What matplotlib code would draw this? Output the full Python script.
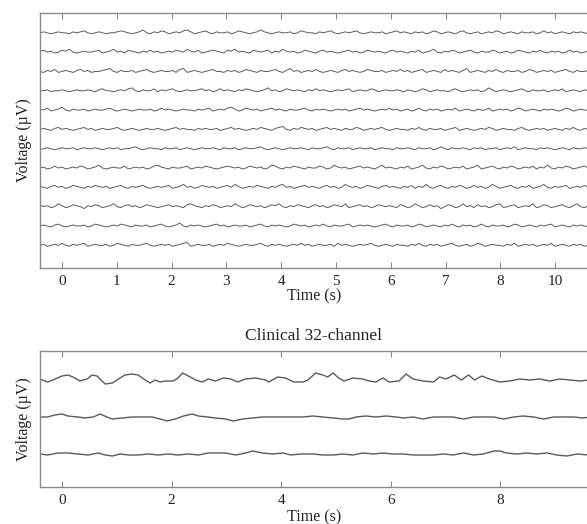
import numpy as np
import matplotlib
matplotlib.use("Agg")
import matplotlib.pyplot as plt

plt.rcParams['font.family'] = ['Liberation Serif', 'DejaVu Serif']

# ---------------- data ----------------
# Top panel: 12 high-density channels (values in µV, relative to channel baseline)
top_ch01 = [0,1,0,-1,0,1,0,0,-1,1,0,1,2,0,-1,0,1,0,-1,0,0,1,2,1,0,-1,0,1,3,0,-1,1,0,2,1,-1,0,1,0,2,3,1,-1,0,1,2,0,-1,1,0,0,1,-1,0,2,1,0,-1,0,1,3,1,0,-1,0,1,0,0,1,-1,0,2,1,0,0,-1,1,0,1,2,0,-1,0,1,0,1,2,0,-1,0,1,0,0,1,-1,0,1,2,0,1,
            0,-1,1,0,1,-1,0,2,1,-1,0,1,0,-1,1,2,0,-1,0,1,-1,0,1,0,2,1,-1,0,1,0,-1,1,0,0,1,-1,0,2,0,1,-1,0,1,0,-1,1,0,1,0,-1]
top_ch02 = [1,2,0,1,-1,0,2,1,3,0,-1,0,1,0,0,1,2,-1,0,1,3,0,1,-1,2,1,0,-1,1,0,2,0,1,-1,0,1,0,2,1,0,3,1,0,2,-1,0,1,2,1,0,-1,2,1,3,0,1,0,-1,2,1,0,1,2,-1,1,0,3,1,0,1,-1,0,2,1,0,-1,1,2,0,1,0,-1,0,1,2,0,1,-1,0,2,1,0,1,0,-1,1,2,0,1,0,
            -1,1,0,2,-1,0,1,3,0,-1,1,0,2,1,-1,0,1,2,0,-1,1,0,0,2,1,-1,0,1,-1,0,2,1,0,-1,1,0,2,0,-1,1,0,1,-1,0,2,0,1,-1,0,1]
top_ch03 = [0,-1,1,0,2,-1,0,1,0,-1,1,2,0,1,-1,0,0,1,2,3,0,-1,1,0,0,1,-1,0,1,2,0,-1,0,1,0,0,1,-1,2,3,-1,0,1,0,-1,0,1,2,0,0,-1,1,0,1,-1,0,2,1,0,-1,1,0,0,1,2,0,-1,1,3,0,1,-1,0,1,0,2,0,-1,0,1,0,-1,1,2,0,1,0,-1,0,2,1,0,0,1,-1,0,1,0,2,0,
            1,-1,0,1,2,-1,0,1,0,-1,2,0,1,0,-1,1,3,-1,0,1,0,-1,1,0,2,0,-1,1,0,0,1,-1,0,2,1,-1,0,1,0,1,-1,0,1,2,0,-1,1,0,0,1]
top_ch04 = [0,0,1,-1,0,0,1,0,-1,0,1,0,0,1,0,-1,1,2,0,0,-1,0,1,0,2,3,0,-1,1,0,0,2,-1,1,0,1,2,0,-1,0,1,0,0,1,2,0,1,-1,0,2,0,1,0,-1,1,0,2,1,0,-1,0,1,3,0,1,-1,0,2,1,0,1,0,-1,1,0,2,0,1,0,-1,0,1,0,1,2,-1,0,1,0,0,2,1,-1,0,1,0,0,1,0,-1,
            1,0,-1,0,2,1,-1,0,1,0,0,-1,1,2,0,-1,0,1,0,1,-1,0,3,1,-1,0,1,0,-1,0,1,2,0,-1,1,0,0,1,-1,0,1,0,2,-1,0,1,0,-1,1,0]
top_ch05 = [1,0,2,-1,0,1,3,0,-1,1,0,0,1,-1,0,1,0,0,1,2,0,-1,0,1,0,-1,0,1,0,0,1,-1,0,2,0,1,0,-1,0,1,0,0,-1,1,0,1,2,-1,0,1,0,2,3,1,-1,0,2,1,0,1,-1,0,1,2,0,1,0,-1,1,0,0,1,2,0,-1,1,0,1,0,-1,0,1,0,1,-1,0,1,2,0,1,0,-1,0,1,0,2,0,1,-1,0,
            1,-1,0,2,0,-1,1,0,1,-1,0,1,0,2,-1,0,1,0,-1,1,0,0,2,-1,0,1,0,1,-1,0,2,1,-1,0,1,0,-1,1,0,1,0,-1,0,2,1,-1,0,1,0,0]
top_ch06 = [0,1,0,-1,1,2,0,1,0,-1,0,1,2,0,1,-1,0,1,0,0,1,2,0,-1,0,1,0,-1,0,1,0,0,1,0,-1,0,1,2,0,1,0,0,-1,1,0,1,0,0,1,-1,0,1,2,0,1,0,-1,0,1,0,2,1,0,-1,1,2,3,0,-1,1,0,2,1,0,1,-1,0,1,2,0,1,0,-1,1,0,0,2,1,-1,0,1,0,1,2,0,-1,0,1,0,0,
            -1,1,0,2,0,-1,1,0,0,1,-1,0,1,2,-1,0,1,0,-1,0,1,0,2,1,-1,0,1,0,0,-1,1,2,0,-1,0,1,0,1,-1,0,1,0,-1,1,0,2,0,-1,1,0]
top_ch07 = [-1,0,1,0,-1,0,1,0,0,1,-1,0,1,0,0,1,0,-1,0,1,0,1,-1,0,0,1,2,0,-1,0,1,0,0,-1,1,0,0,1,-1,0,1,0,-1,0,1,0,0,1,0,-1,1,0,0,1,-1,0,1,0,0,1,2,0,-1,0,1,0,-1,0,1,0,0,1,0,-1,1,0,0,1,2,0,-1,1,0,0,1,-1,0,1,0,0,1,-1,0,1,0,0,-1,1,0,0,
            1,0,-1,1,0,0,1,-1,0,2,0,-1,1,0,0,1,0,-1,1,0,1,-1,0,0,1,-1,0,1,0,2,-1,0,1,0,0,-1,1,0,1,0,-1,0,1,0,-1,1,0,0,1,0]
top_ch08 = [0,1,-1,0,2,0,1,-1,0,1,0,2,1,-1,0,1,3,0,-1,0,1,0,0,2,-1,0,1,0,1,-1,0,2,3,1,0,-1,1,0,0,1,2,-1,0,1,0,2,1,0,-1,0,1,2,1,0,1,-1,0,2,1,0,1,-1,0,3,2,0,-1,1,0,2,1,0,-1,1,0,0,2,1,-1,0,3,1,0,1,-1,0,1,2,0,1,0,-1,1,3,0,1,0,-1,1,0,
            2,-1,0,1,3,0,-1,1,0,2,1,-1,0,1,0,2,-1,0,1,3,-1,0,1,2,0,-1,1,0,2,1,-1,0,1,0,2,-1,1,0,3,0,-1,1,0,2,1,-1,0,1,2,0]
top_ch09 = [1,0,-1,1,2,0,1,-1,0,2,1,0,-1,1,0,2,1,0,1,-1,0,1,2,0,-1,1,0,1,2,0,-1,0,1,0,1,2,-1,0,1,3,0,1,-1,0,2,1,0,1,-1,0,1,2,0,3,1,-1,0,1,0,2,1,0,-1,1,0,2,3,0,1,-1,0,1,2,0,1,0,-1,1,2,0,1,-1,0,3,1,0,1,-1,0,2,1,0,-1,1,2,0,1,0,-1,1,
            0,2,-1,1,0,3,0,-1,1,2,0,-1,1,0,2,1,-1,0,2,0,1,-1,0,3,1,-1,0,1,2,0,-1,1,0,2,-1,0,1,3,0,-1,1,0,1,2,-1,0,1,0,2,0]
top_ch10 = [2,0,1,-1,0,3,1,-1,0,2,1,0,-2,1,0,2,1,-1,0,1,3,0,-1,1,2,0,1,-1,0,2,1,0,-1,0,1,2,0,1,0,-1,2,3,1,0,-1,1,0,2,1,-1,0,1,0,3,1,-1,0,2,1,0,1,-1,0,2,1,3,0,-1,1,0,2,1,0,-1,1,2,0,1,-1,0,2,1,0,3,-1,0,1,2,0,1,-1,0,2,1,0,1,0,-1,2,1,
            -1,0,3,1,-1,0,2,0,1,-2,0,2,1,-1,0,3,0,1,-1,2,0,1,-1,0,2,3,-1,0,1,2,-1,0,1,0,3,-1,0,2,1,-1,0,1,2,0,-1,1,3,0,-1,1]
top_ch11 = [0,1,0,-1,1,2,0,-1,0,1,0,0,1,-1,0,2,1,0,-1,0,1,0,2,1,0,-1,1,0,0,1,-1,0,1,2,0,-1,0,1,3,0,-1,1,0,1,0,-1,0,1,2,0,1,-1,0,1,0,0,1,-1,0,1,2,0,-1,1,0,1,0,-1,0,2,1,0,1,-1,0,1,0,2,0,-1,1,0,0,1,2,-1,0,1,0,1,0,-1,0,1,2,0,-1,1,0,0,
            1,-1,0,2,1,-1,0,1,0,-1,1,0,2,0,-1,1,0,1,-1,0,2,0,-1,1,0,0,1,-1,0,2,1,-1,0,1,0,-1,1,0,1,2,-1,0,1,0,-1,1,0,1,0,-1]
top_ch12 = [0,1,-1,0,1,0,2,0,-1,1,0,1,2,-1,0,1,0,0,1,-1,0,2,1,0,-1,1,0,0,1,2,0,-1,0,1,0,1,-1,0,1,2,3,-1,0,1,0,0,1,-1,0,1,0,2,1,0,-1,0,1,0,0,1,2,0,-1,1,0,1,0,-1,0,1,0,2,0,1,-1,0,1,0,0,1,-1,2,0,1,0,-1,0,1,0,1,2,0,-1,0,1,0,-1,1,0,0,
            -1,1,0,2,0,-1,1,0,1,-1,0,1,2,0,-1,0,1,-1,0,2,1,-1,0,1,0,0,-1,1,0,2,-1,0,1,0,1,-1,0,1,0,2,-1,0,1,0,-1,1,0,1,-1,0]
top_channels = [top_ch01, top_ch02, top_ch03, top_ch04, top_ch05, top_ch06,
                top_ch07, top_ch08, top_ch09, top_ch10, top_ch11, top_ch12]
top_spacing = 20           # µV between channel baselines
top_t_start, top_t_end = -0.4, 9.6

# Bottom panel: clinical 32-channel, 3 channels (time in s, value in µV)
clin1_t = [-0.40,-0.26,-0.16,0.00,0.11,0.20,0.33,0.46,0.55,0.64,0.73,0.79,0.92,1.03,1.15,1.28,1.39,1.52,1.61,1.70,1.79,1.89,2.03,2.12,2.20,2.31,2.44,2.56,2.67,2.80,
           2.95,3.08,3.21,3.35,3.53,3.72,3.77,3.94,4.08,4.23,4.40,4.49,4.63,4.76,4.85,4.95,5.05,5.15,5.31,5.49,5.60,5.73,5.86,5.97,
           6.15,6.28,6.41,6.59,6.78,6.89,7.01,7.16,7.29,7.42,7.53,7.66,7.80,7.99,8.17,8.35,8.53,8.72,8.90,9.08,9.27,9.45,9.62]
clin1_v = [1,-2,0,4,5,3,-1,1,5,4,-1,-4,-3,1,5,6,5,0,-3,0,-2,-1,-1,2,7,4,0,-2,1,-1,
           2,1,-2,1,2,0,-2,3,2,-2,-2,0,7,5,3,7,2,-1,2,1,-1,-2,2,-2,
           -1,6,1,-1,-2,3,1,5,0,5,0,4,1,-2,-1,1,0,1,-1,1,0,-1,0]
clin2_t = [-0.40,-0.26,-0.13,0.00,0.11,0.29,0.42,0.57,0.70,0.82,0.92,1.10,1.28,1.47,1.65,1.79,1.92,2.07,2.22,2.38,2.49,2.66,2.80,
           2.99,3.13,3.30,3.48,3.66,3.85,4.03,4.21,4.40,4.58,4.76,4.95,5.13,5.24,5.37,5.55,5.73,5.92,6.10,
           6.23,6.41,6.59,6.78,6.96,7.14,7.33,7.51,7.69,7.88,8.06,8.24,8.42,8.61,8.79,8.97,9.16,9.34,9.52,9.62]
clin2_v = [0,0,2,3,1,0,-1,0,3,0,-2,-1,0,0,0,-2,-4,-2,1,3,1,0,-1,
           -2,-4,-2,-1,0,0,0,0,0,1,0,-1,-2,-2,0,1,0,1,0,
           -1,0,-2,0,0,0,-2,0,0,0,-2,0,1,0,-2,0,0,0,-1,0]
clin3_t = [-0.40,-0.26,-0.07,0.11,0.29,0.48,0.66,0.79,0.92,1.06,1.21,1.39,1.58,1.76,1.94,2.12,2.31,2.49,2.67,2.86,
           2.99,3.17,3.35,3.48,3.66,3.85,4.03,4.18,4.36,4.58,4.76,4.95,5.13,5.31,5.49,5.68,5.86,6.04,
           6.23,6.41,6.59,6.78,6.96,7.14,7.33,7.51,7.69,7.88,7.99,8.11,8.30,8.48,8.66,8.85,9.03,9.21,9.40,9.62]
clin3_v = [0,-1,1,1,0,-1,1,-1,-2,0,-1,-1,0,-1,0,-1,0,-1,1,1,
           1,-1,1,3,1,0,1,-1,0,0,-1,-1,0,-1,1,0,1,0,
           0,-1,-1,-1,0,-1,1,-1,0,3,3,1,0,1,0,1,-1,-2,0,-1]
clin_t = [clin1_t, clin2_t, clin3_t]
clin_v = [clin1_v, clin2_v, clin3_v]
clin_spacing = 37
clin_t_start, clin_t_end = -0.4, 9.6

top_ticks = [0, 1, 2, 3, 4, 5, 6, 7, 8, 9]
top_ticklabels = ['0', '1', '2', '3', '4', '5', '6', '7', '8', '10']
clin_ticks = [0, 2, 4, 6, 8]
clin_ticklabels = ['0', '2', '4', '6', '8']

xlabel = 'Time (s)'
ylabel = 'Voltage (µV)'
clin_title = 'Clinical 32-channel'

# ---------------- figure ----------------
W, H = 587, 524
fig = plt.figure(figsize=(W / 100, H / 100), dpi=100)

spine_col = '#8a8a8a'
text_col = '#222222'


def style_axes(ax):
    for s in ['left', 'top', 'bottom', 'right']:
        ax.spines[s].set_color(spine_col)
        ax.spines[s].set_linewidth(1.0)
    ax.tick_params(axis='x', direction='in', top=True, bottom=True, length=4,
                   width=0.8, color=spine_col, labelsize=11, labelcolor=text_col, pad=5)
    ax.tick_params(axis='y', left=False, labelleft=False)
    ax.xaxis.label.set_color(text_col)
    ax.yaxis.label.set_color(text_col)


ax1 = fig.add_axes([40 / W, (H - 268) / H, 548 / W, 255 / H])
for i, ch in enumerate(top_channels):
    t = np.linspace(top_t_start, top_t_end, len(ch))
    ax1.plot(t, np.asarray(ch) - i * top_spacing, color='#505050', lw=0.65)
n_top = len(top_channels)
ax1.set_xlim(top_t_start, top_t_end)
ax1.set_ylim(-(n_top - 1) * top_spacing - 23.5, 20.5)
ax1.set_xticks(top_ticks)
ax1.set_xticklabels(top_ticklabels)
ax1.set_xlabel(xlabel, fontsize=11.5, labelpad=0.5)
ax1.set_ylabel(ylabel, fontsize=11.5, labelpad=6)
style_axes(ax1)

ax2 = fig.add_axes([40 / W, (H - 487) / H, 548 / W, 136 / H])
for i, (t, v) in enumerate(zip(clin_t, clin_v)):
    ax2.plot(t, np.asarray(v) - i * clin_spacing, color='#5a5a5a', lw=1.0)
n_cl = len(clin_t)
ax2.set_xlim(clin_t_start, clin_t_end)
ax2.set_ylim(-(n_cl - 1) * clin_spacing - 33, 29)
ax2.set_xticks(clin_ticks)
ax2.set_xticklabels(clin_ticklabels)
ax2.set_xlabel(xlabel, fontsize=11.5, labelpad=1.5)
ax2.set_ylabel(ylabel, fontsize=11.5, labelpad=6)
ax2.set_title(clin_title, fontsize=12.5, color=text_col, pad=8)
style_axes(ax2)

fig.savefig('out.png', dpi=100, facecolor='white')
